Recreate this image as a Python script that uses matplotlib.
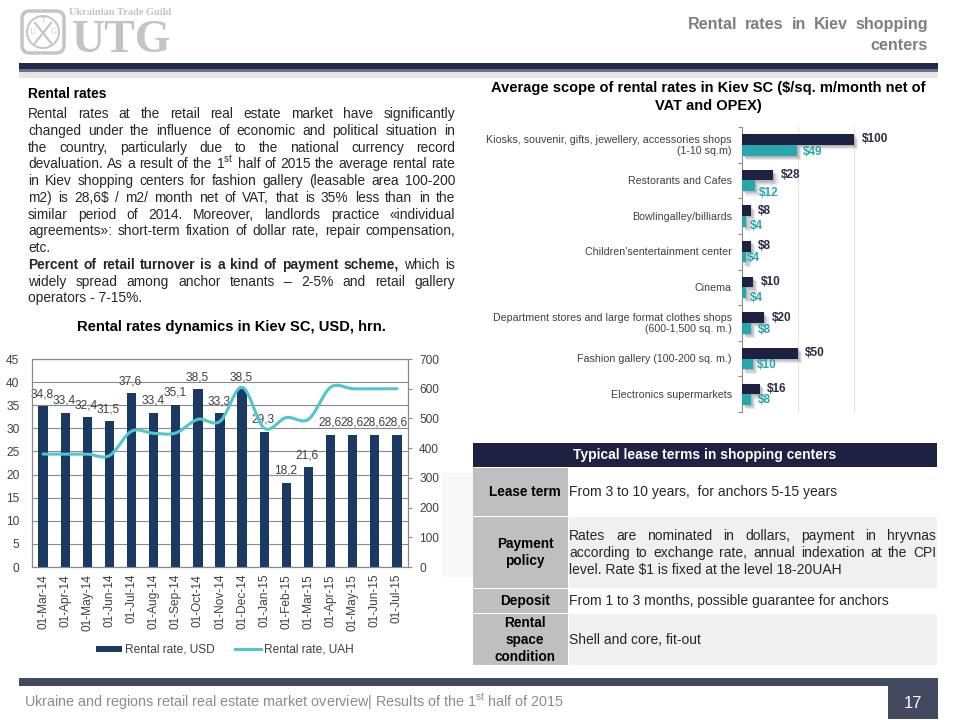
import numpy as np
import matplotlib
matplotlib.use("Agg")
import matplotlib.pyplot as plt
import matplotlib.patheffects as pe
from matplotlib.lines import Line2D
from matplotlib.patches import Circle, FancyBboxPatch, Patch, Rectangle

plt.rcParams["font.family"] = ["Liberation Sans", "DejaVu Sans"]
plt.rcParams["mathtext.fontset"] = "custom"
plt.rcParams["mathtext.rm"] = "Liberation Sans"

# ── Data ─────────────────────────────────────────────────────────────────────
months = ["01-Mar-14", "01-Apr-14", "01-May-14", "01-Jun-14", "01-Jul-14",
          "01-Aug-14", "01-Sep-14", "01-Oct-14", "01-Nov-14", "01-Dec-14",
          "01-Jan-15", "01-Feb-15", "01-Mar-15", "01-Apr-15", "01-May-15",
          "01-Jun-15", "01-Jul-15"]
rent_usd = [34.8, 33.4, 32.4, 31.5, 37.6, 33.4, 35.1, 38.5, 33.3, 38.5,
            29.3, 18.2, 21.6, 28.6, 28.6, 28.6, 28.6]
rent_uah = [380, 380, 380, 375, 457, 450, 451, 497, 490, 605,
            467, 503, 497, 605, 600, 600, 600]

categories = ["Kiosks, souvenir, gifts, jewellery, accessories shops\n(1-10 sq.m)",
              "Restorants and Cafes", "Bowlingalley/billiards",
              "Children'sentertainment center", "Cinema",
              "Department stores and large format clothes shops\n(600-1,500 sq. m.)",
              "Fashion gallery (100-200 sq. m.)", "Electronics supermarkets"]
rate_high = [100, 28, 8, 8, 10, 20, 50, 16]
rate_low = [49, 12, 4, 4, 4, 8, 10, 8]

body_lines = [
    ("Rental rates at the retail real estate market have significantly", True, 0),
    ("changed under the influence of economic and political situation in", True, 0),
    ("the country, particularly due to the national currency record", True, 0),
    ("devaluation. As a result of the 1$^{\\mathrm{st}}$ half of 2015 the average rental rate", True, 0),
    ("in Kiev shopping centers for fashion gallery (leasable area 100-200", True, 0),
    ("m2) is 28,6$ / m2/ month net of VAT, that is 35% less than in the", True, 0),
    ("similar period of 2014. Moreover, landlords practice «individual", True, 0),
    ("agreements»: short-term fixation of dollar rate, repair compensation,", True, 0),
    ("etc.", False, 0),
    ("Percent of retail turnover is a kind of payment scheme, which is", True, 10),
    ("widely spread among anchor tenants – 2-5% and retail gallery", True, 0),
    ("operators - 7-15%.", False, 0),
]
policy_lines = ["Rates are nominated in dollars, payment in hryvnas",
                "according to exchange rate, annual indexation at the CPI",
                "level. Rate $1 is fixed at the level 18-20UAH"]

# ── Colours ──────────────────────────────────────────────────────────────────
NAVY = "#1d2142"
BAR_BLUE = "#1a3a63"
TEAL = "#27a6ad"
LINE_TEAL = "#4fc6d0"
GRID = "#8a8a8a"
TEXT = "#262626"
TICK = "#404040"
BODY = 9.9
CELL = 10

fig = plt.figure(figsize=(9.6, 7.2), dpi=100, facecolor="white")

# Full-page layer in pixel coordinates for the slide furniture
page = fig.add_axes([0, 0, 1, 1])
page.set_xlim(0, 960)
page.set_ylim(720, 0)
page.axis("off")
renderer = fig.canvas.get_renderer()


def px_axes(left, top, right, bottom):
    return fig.add_axes([left / 960, 1 - bottom / 720,
                         (right - left) / 960, (bottom - top) / 720],
                        facecolor="none")


def block(x0, y0, x1, y1, color):
    page.add_patch(Rectangle((x0, y0), x1 - x0, y1 - y0, fc=color, ec="none"))


def justified(text, y, x0, x1, bold_words=0, size=BODY, color=TEXT):
    """Lay one line out word by word so it fills x0..x1."""
    words = text.split()
    items = [page.text(x0, y, w, fontsize=size, color=color, va="baseline",
                       fontweight="bold" if i < bold_words else "normal")
             for i, w in enumerate(words)]
    widths = [t.get_window_extent(renderer).width for t in items]
    gap = (x1 - x0 - sum(widths)) / (len(words) - 1)
    x = x0
    for t, w in zip(items, widths):
        t.set_x(x)
        x += w + gap


# ── Header ───────────────────────────────────────────────────────────────────
LOGO = "#c4c4c4"
page.add_patch(FancyBboxPatch((25, 14), 36, 36, boxstyle="round,pad=3,rounding_size=8",
                              fc="white", ec=LOGO, lw=2.5))
page.add_patch(Circle((43, 32), 16, fc="white", ec=LOGO, lw=1.4))
page.plot([35, 51], [23, 43], color=LOGO, lw=1.5)
page.plot([51, 35], [23, 43], color=LOGO, lw=1.5)
page.text(43, 21, "T", fontsize=6, color=LOGO, ha="center", va="center", family="Liberation Serif")
page.text(33, 32, "U", fontsize=6, color=LOGO, ha="center", va="center", family="Liberation Serif")
page.text(54, 32, "G", fontsize=6, color=LOGO, ha="center", va="center", family="Liberation Serif")
page.text(69, 12.5, "Ukrainian Trade Guild", fontsize=7.5, color=LOGO, fontweight="bold",
          va="center", family="Liberation Serif")
page.text(72, 52, "UTG", fontsize=33, color=LOGO, fontweight="bold", va="baseline",
          family="Liberation Serif")

justified("Rental rates in Kiev shopping", 29, 688, 928, size=11.6, color="#7f7f7f", bold_words=5)
page.text(928, 50, "centers", fontsize=11.6, color="#7f7f7f", fontweight="bold", ha="right", va="baseline")

block(19, 63, 938, 69, "#1f2a4a")
block(19, 69, 938, 72, "#6b7388")
block(19, 72, 938, 78, "#e6e7e5")

# ── Body text ────────────────────────────────────────────────────────────────
page.text(28, 98, "Rental rates", fontsize=BODY, color="black", fontweight="bold", va="baseline")
for i, (line, just, bold) in enumerate(body_lines):
    y = 118 + i * 16.77
    if just:
        justified(line, y, 28, 455, bold_words=bold)
    else:
        page.text(28, y, line, fontsize=BODY, color=TEXT, va="baseline")

page.text(231, 331, "Rental rates dynamics in Kiev SC, USD, hrn.", fontsize=10.6, color="black",
          fontweight="bold", ha="center", va="baseline")
page.text(708, 92, "Average scope of rental rates in Kiev SC ($/sq. m/month net of", fontsize=10.5,
          color="black", fontweight="bold", ha="center", va="baseline")
page.text(708, 110, "VAT and OPEX)", fontsize=10.5, color="black", fontweight="bold",
          ha="center", va="baseline")

# ── Left chart: USD bars with the UAH line on a second axis ──────────────────
ax = px_axes(32, 359, 408, 567)
x = np.arange(len(months))
ax.bar(x, rent_usd, width=0.42, color=BAR_BLUE, zorder=3)
ax.set_xlim(-0.5, len(months) - 0.5)
ax.set_ylim(0, 45)
ax.set_yticks(range(0, 46, 5))
ax.set_xticks(x)
ax.set_xticklabels(months, rotation=90, fontsize=8.6, color=TICK)
ax.tick_params(axis="y", labelsize=8.6, labelcolor=TICK, length=0, pad=9)
ax.tick_params(axis="x", length=0, pad=5)
ax.grid(axis="y", color=GRID, lw=0.8, zorder=0)
for name, spine in ax.spines.items():
    spine.set_color(GRID)
    spine.set_linewidth(0.8)
for xi, v in zip(x, rent_usd):
    ax.annotate(f"{v:.1f}".replace(".", ","), (xi, v), xytext=(-0.7, 4.3),
                textcoords="offset points", ha="center", va="bottom",
                fontsize=8.6, color=TICK, zorder=6)


def smooth(xs, ys, steps=20):
    """Catmull-Rom curve through the points, like a smoothed office chart line."""
    px_, py = np.asarray(xs, float), np.asarray(ys, float)
    px_ = np.r_[px_[0], px_, px_[-1]]
    py = np.r_[py[0], py, py[-1]]
    out_x, out_y = [], []
    t = np.linspace(0, 1, steps)
    h00, h10 = 2*t**3 - 3*t**2 + 1, t**3 - 2*t**2 + t
    h01, h11 = -2*t**3 + 3*t**2, t**3 - t**2
    for i in range(1, len(px_) - 2):
        out_x.append(h00*px_[i] + h10*(px_[i+1]-px_[i-1])/2 + h01*px_[i+1] + h11*(px_[i+2]-px_[i])/2)
        out_y.append(h00*py[i] + h10*(py[i+1]-py[i-1])/2 + h01*py[i+1] + h11*(py[i+2]-py[i])/2)
    return np.concatenate(out_x), np.concatenate(out_y)


ax2 = ax.twinx()
ax2.patch.set_visible(False)
sx, sy = smooth(x, rent_uah)
ax2.plot(sx, sy, color=LINE_TEAL, lw=2.2, solid_capstyle="round", zorder=5)
ax2.set_ylim(0, 700)
ax2.set_yticks(range(0, 701, 100))
ax2.tick_params(axis="y", labelsize=8.6, labelcolor=TICK, color=GRID, length=3, pad=5)
for spine in ax2.spines.values():
    spine.set_color(GRID)
    spine.set_linewidth(0.8)

handles = [Patch(fc=BAR_BLUE, ec="none"), Line2D([], [], color=LINE_TEAL, lw=2.2)]
fig.legend(handles, ["Rental rate, USD", "Rental rate, UAH"], loc="center",
           bbox_to_anchor=(225 / 960, 1 - 650 / 720), ncol=2, frameon=False,
           fontsize=8.6, labelcolor=TICK, handlelength=2.17, handleheight=0.35,
           handletextpad=0.25, columnspacing=1.7)

# ── Right chart: scope of rental rates ───────────────────────────────────────
ax3 = px_axes(741.7, 127, 910, 412)
y = np.arange(len(categories))
# soft drop shadow: a few faint copies stepping down and right
shadow = [pe.SimplePatchShadow(offset=(d, -d), shadow_rgbFace="#707070", alpha=0.16)
          for d in (3.2, 2.4, 1.6, 0.8)] + [pe.Normal()]
bars_high = ax3.barh(y - 0.15, rate_high, height=0.3, color=NAVY, zorder=3)
bars_low = ax3.barh(y + 0.15, rate_low, height=0.3, color=TEAL, zorder=3)
for b in list(bars_high) + list(bars_low):
    b.set_path_effects(shadow)
ax3.set_xlim(0, 150)
ax3.set_ylim(len(categories) - 0.5, -0.5)
ax3.set_xticks([50, 100, 150])
ax3.tick_params(axis="x", length=0, labelbottom=False)
ax3.set_yticks(np.arange(-0.5, len(categories)), minor=False)
ax3.set_yticklabels([])
ax3.tick_params(axis="y", color=GRID, length=3, width=0.8)
ax3.grid(axis="x", color="#e6e6e6", lw=0.8, zorder=0)
for name, spine in ax3.spines.items():
    spine.set_visible(name == "left")
    spine.set_color(GRID)
    spine.set_linewidth(0.8)
for yi, cat in zip(y, categories):
    ax3.annotate(cat, (0, yi), xytext=(-7, -0.5), textcoords="offset points", ha="right",
                 va="center", fontsize=7.65, color=TICK, linespacing=1.15)

# the original's low-value labels sit by hand around their bars (px nudges)
low_dx = [6.7, 4, 4, 1, 4, 7, 3.6, 7.6]
low_dy = [2, 7, 5, 1, 5, 2, 1, 0]
for i, (hi, lo) in enumerate(zip(rate_high, rate_low)):
    ax3.annotate(f"${hi}", (hi, i - 0.15), xytext=(5.4, 0), textcoords="offset points",
                 va="center", fontsize=8.5, fontweight="bold", color="#2a2d45", zorder=6)
    ax3.annotate(f"${lo}", (lo, i + 0.15), xytext=(low_dx[i] * 0.72, -low_dy[i] * 0.72),
                 textcoords="offset points", va="center", fontsize=8.5, fontweight="bold",
                 color=TEAL, zorder=6)

# ── Lease terms table ────────────────────────────────────────────────────────
block(442, 473, 473, 577, "#f8f8f8")
block(473, 443, 937, 467, NAVY)
page.text(705, 459, "Typical lease terms in shopping centers", fontsize=10, color="white",
          fontweight="bold", ha="center", va="baseline")
for top, bottom, fill in [(467.5, 516, "white"), (517, 588, "#f0f0f0"),
                          (589, 613, "white"), (614, 665, "#f0f0f0")]:
    block(473, top, 568, bottom, "#bfbfbf")
    block(568.5, top, 937, bottom, fill)
for label, ypos in [("Lease term", 496), ("Payment", 548), ("policy", 565), ("Deposit", 605),
                    ("Rental", 627), ("space", 644), ("condition", 661)]:
    page.text(525, ypos, label, fontsize=9.8, color="black", fontweight="bold",
              ha="center", va="baseline")
page.text(569, 496, "From 3 to 10 years,  for anchors 5-15 years", fontsize=CELL, color=TEXT, va="baseline")
justified(policy_lines[0], 540, 569, 936, size=CELL)
justified(policy_lines[1], 557, 569, 936, size=CELL)
page.text(569, 574, policy_lines[2], fontsize=CELL, color=TEXT, va="baseline")
page.text(569, 605, "From 1 to 3 months, possible guarantee for anchors", fontsize=CELL, color=TEXT, va="baseline")
page.text(569, 644, "Shell and core, fit-out", fontsize=CELL, color=TEXT, va="baseline")

# ── Footer ───────────────────────────────────────────────────────────────────
block(19, 678, 938, 686, "#434a60")
block(888, 678, 938, 719, "#434a60")
page.text(24, 706, "Ukraine and regions retail real estate market overview| Results of the 1$^{\\mathrm{st}}$ half of 2015",
          fontsize=10.4, color="#8c8c8c", va="baseline")
page.text(913, 703, "17", fontsize=12, color="white", ha="center", va="center")

fig.savefig("out.png", dpi=100)
